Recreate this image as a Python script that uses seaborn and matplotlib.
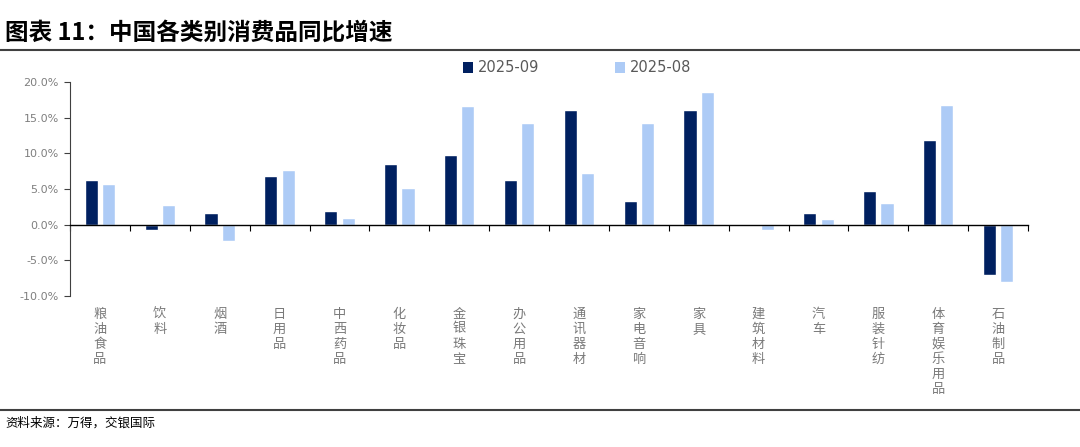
import matplotlib
matplotlib.use("Agg")
import matplotlib.pyplot as plt
import seaborn as sns
import pandas as pd
import numpy as np
from matplotlib.ticker import FuncFormatter, FixedLocator
from matplotlib.patches import Patch
from matplotlib.lines import Line2D

categories = ["粮油食品", "饮料", "烟酒", "日用品", "中西药品", "化妆品", "金银珠宝", "办公用品",
              "通讯器材", "家电音响", "家具", "建筑材料", "汽车", "服装针纺", "体育娱乐用品", "石油制品"]
sep_values = [6.3, -0.8, 1.6, 6.8, 1.9, 8.5, 9.7, 6.2, 16.1, 3.3, 16.1, -0.1, 1.6, 4.7, 11.8, -7.1]
aug_values = [5.7, 2.8, -2.3, 7.7, 0.9, 5.1, 16.7, 14.2, 7.2, 14.3, 18.6, -0.7, 0.8, 3.0, 16.8, -8.0]
series_names = ["2025-09", "2025-08"]
y_ticks = [-10, -5, 0, 5, 10, 15, 20]

sns.set_style("white")
plt.rcParams['font.family'] = ['DejaVu Sans', 'Noto Sans CJK SC']

df = pd.DataFrame({
    "cat": categories * 2,
    "val": sep_values + aug_values,
    "series": [series_names[0]] * len(categories) + [series_names[1]] * len(categories),
})

colors = {"2025-09": "#002060", "2025-08": "#ADCBF6"}

fig = plt.figure(figsize=(10.8, 4.47), dpi=100)
ax = fig.add_axes([70 / 1080, 1 - 296 / 447, (1028 - 70) / 1080, (296 - 82) / 447])

sns.barplot(data=df, x="cat", y="val", hue="series", palette=colors, ax=ax,
            width=0.58, gap=0.24, legend=False, saturation=1, errorbar=None)

ax.set_xlim(-0.5, len(categories) - 0.5)
ax.set_ylim(-10, 20)
ax.yaxis.set_major_locator(FixedLocator(y_ticks))
ax.yaxis.set_major_formatter(FuncFormatter(lambda v, p: f"{v:.1f}%"))
ax.tick_params(axis="y", which="major", direction="out", length=4, width=0.8,
               color="#404040", labelsize=8, labelcolor="#7F7F7F", pad=4, left=True)

for s in ["top", "right"]:
    ax.spines[s].set_visible(False)
ax.spines["left"].set_color("#404040")
ax.spines["left"].set_linewidth(0.8)
ax.spines["bottom"].set_position(("data", 0))
ax.spines["bottom"].set_color("#000000")
ax.spines["bottom"].set_linewidth(1.0)

ax.set_xticks(np.arange(len(categories)))
ax.set_xticklabels([])
ax.tick_params(axis="x", which="major", length=0)
ax.set_xticks(np.arange(len(categories) + 1) - 0.5, minor=True)
ax.tick_params(axis="x", which="minor", direction="out", length=4, width=0.8, color="#000000", bottom=True)
ax.set_xlabel("")
ax.set_ylabel("")

trans = matplotlib.transforms.blended_transform_factory(ax.transData, ax.transAxes)
for i, c in enumerate(categories):
    ax.text(i, -0.055, "\n".join(c), transform=trans, ha="center", va="top",
            fontsize=9.5, color="#7A7A7A", linespacing=1.2, family=['Noto Sans CJK SC'],
            fontweight="light")

handles = [Patch(facecolor=colors[n], edgecolor="none") for n in series_names]
leg = fig.legend(handles, series_names, loc="center", bbox_to_anchor=(577 / 1080, 1 - 68 / 447),
                 ncol=2, frameon=False, fontsize=10.5, handlelength=0.7, handleheight=0.7,
                 handletextpad=0.3, columnspacing=5.2, labelcolor="#595959")

fig.text(5 / 1080, 1 - 33 / 447, "图表 11：中国各类别消费品同比增速", fontsize=17, fontweight="bold",
         color="#000000", ha="left", va="center", family=['Noto Sans CJK SC', 'DejaVu Sans'])
fig.add_artist(Line2D([0, 1], [1 - 50 / 447] * 2, color="#404040", linewidth=1.5, transform=fig.transFigure))
fig.add_artist(Line2D([0, 1], [1 - 409.5 / 447] * 2, color="#404040", linewidth=1.5, transform=fig.transFigure))
fig.text(5 / 1080, 1 - 423 / 447, "资料来源：万得，交银国际", fontsize=9, style="italic",
         color="#000000", ha="left", va="center", family=['Noto Sans CJK SC', 'DejaVu Sans'])

fig.savefig("out.png", dpi=100)
